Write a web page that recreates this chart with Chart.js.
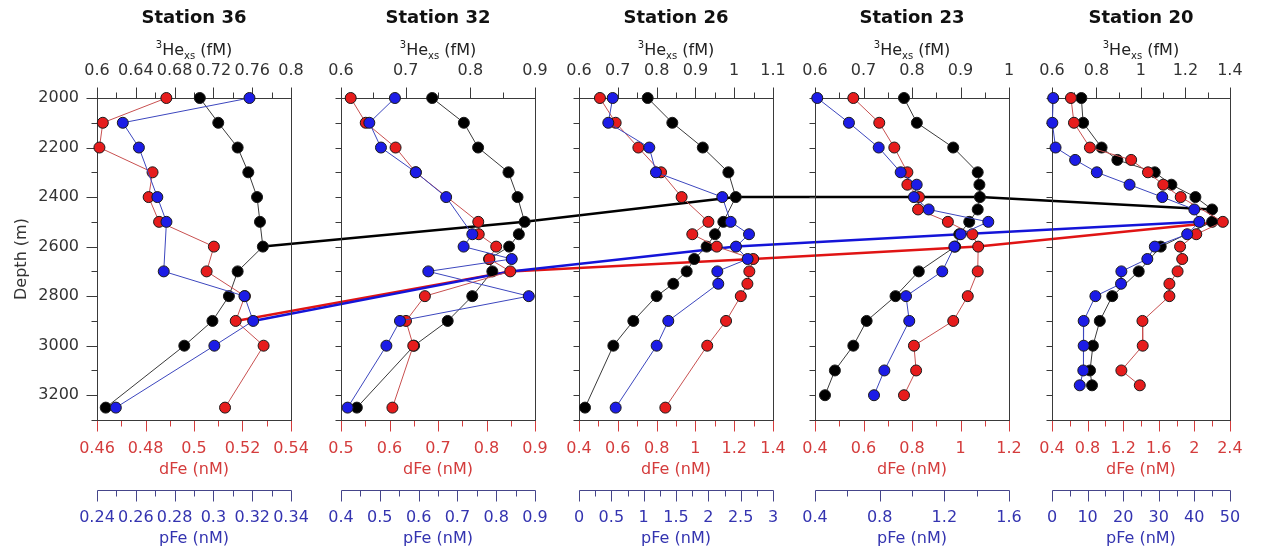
<!DOCTYPE html>
<html>
<head>
<meta charset="utf-8">
<title>3He, dFe and pFe depth profiles</title>
<script src="https://cdn.jsdelivr.net/npm/chart.js@4.4.1/dist/chart.umd.min.js"></script>
<style>
  html, body { margin: 0; padding: 0; background: #fff; }
  #wrap { position: relative; width: 1262px; height: 550px; }
  #wrap canvas { position: absolute; left: 0; top: 0; }
</style>
</head>
<body>
<div id="wrap">
  <canvas id="cores" width="1262" height="550"></canvas>
  <canvas id="p0" width="1262" height="550"></canvas>
  <canvas id="p1" width="1262" height="550"></canvas>
  <canvas id="p2" width="1262" height="550"></canvas>
  <canvas id="p3" width="1262" height="550"></canvas>
  <canvas id="p4" width="1262" height="550"></canvas>
</div>
<script>
// Depth profiles of 3He excess, dissolved Fe and particulate Fe at five stations,
// with the plume core joined from station to station.

Chart.defaults.font.family = '"DejaVu Sans", sans-serif';
Chart.defaults.font.size = 16;
Chart.defaults.color = '#333';

var stations = ['Station 36', 'Station 32', 'Station 26', 'Station 23', 'Station 20'];

// [depth (m), value] pairs
var he36 = [[2000,0.706],[2100,0.725],[2200,0.745],[2300,0.756],[2400,0.765],[2500,0.768],[2600,0.771],[2700,0.745],[2800,0.736],[2900,0.719],[3000,0.690],[3250,0.609]];
var dfe36 = [[2000,0.4886],[2100,0.4624],[2200,0.461],[2300,0.4829],[2400,0.4813],[2500,0.4856],[2600,0.5082],[2700,0.5052],[2800,0.521],[2900,0.5172],[3000,0.5287],[3250,0.5128]];
var pfe36 = [[2000,0.3186],[2100,0.2533],[2200,0.2616],[2400,0.2711],[2500,0.2758],[2700,0.2744],[2800,0.316],[2900,0.3205],[3000,0.3005],[3250,0.2497]];

var he32 = [[2000,0.741],[2100,0.790],[2200,0.812],[2300,0.859],[2400,0.873],[2500,0.884],[2550,0.875],[2600,0.860],[2650,0.829],[2700,0.834],[2800,0.803],[2900,0.765],[3000,0.713],[3250,0.6245]];
var dfe32 = [[2000,0.520],[2100,0.551],[2200,0.6125],[2300,0.654],[2500,0.783],[2550,0.784],[2600,0.820],[2650,0.806],[2700,0.849],[2800,0.673],[2900,0.634],[3000,0.649],[3250,0.606]];
var pfe32 = [[2000,0.539],[2100,0.473],[2200,0.503],[2300,0.593],[2400,0.671],[2550,0.7385],[2600,0.716],[2650,0.840],[2700,0.625],[2800,0.884],[2900,0.552],[3000,0.517],[3250,0.417]];

var he26 = [[2000,0.777],[2100,0.8405],[2200,0.919],[2300,0.985],[2400,1.004],[2500,0.972],[2550,0.9505],[2600,0.929],[2650,0.897],[2700,0.8775],[2750,0.843],[2800,0.800],[2900,0.740],[3000,0.6885],[3250,0.6155]];
var dfe26 = [[2000,0.508],[2100,0.589],[2200,0.706],[2300,0.823],[2400,0.929],[2500,1.067],[2550,0.984],[2600,1.110],[2650,1.298],[2700,1.278],[2750,1.268],[2800,1.234],[2900,1.158],[3000,1.061],[3250,0.845]];
var pfe26 = [[2000,0.521],[2100,0.453],[2200,1.087],[2300,1.19],[2400,2.216],[2500,2.345],[2550,2.629],[2600,2.428],[2650,2.608],[2700,2.139],[2750,2.154],[2900,1.381],[3000,1.201],[3250,0.567]];

var he23 = [[2000,0.7835],[2100,0.810],[2200,0.885],[2300,0.9355],[2350,0.939],[2400,0.940],[2450,0.9355],[2500,0.918],[2550,0.8975],[2600,0.889],[2700,0.814],[2800,0.766],[2900,0.7065],[3000,0.679],[3100,0.641],[3200,0.6206]];
var dfe23 = [[2000,0.558],[2100,0.665],[2200,0.727],[2300,0.781],[2350,0.781],[2400,0.829],[2450,0.825],[2500,0.948],[2550,1.049],[2600,1.073],[2700,1.071],[2800,1.03],[2900,0.970],[3000,0.808],[3100,0.817],[3200,0.767]];
var pfe23 = [[2000,0.414],[2100,0.610],[2200,0.794],[2300,0.930],[2350,1.029],[2400,1.012],[2450,1.103],[2500,1.472],[2550,1.301],[2600,1.262],[2700,1.187],[2800,0.963],[2900,0.983],[3100,0.829],[3200,0.765]];

var he20 = [[2000,0.732],[2100,0.740],[2200,0.823],[2250,0.894],[2300,1.062],[2350,1.137],[2400,1.245],[2450,1.320],[2500,1.320],[2600,1.089],[2700,0.990],[2800,0.871],[2900,0.815],[3000,0.784],[3100,0.771],[3160,0.780]];
var dfe20 = [[2000,0.613],[2100,0.647],[2200,0.826],[2250,1.290],[2300,1.479],[2350,1.651],[2400,1.847],[2500,2.321],[2550,2.022],[2600,1.840],[2650,1.864],[2700,1.812],[2750,1.720],[2800,1.720],[2900,1.417],[3000,1.420],[3100,1.180],[3160,1.387]];
var pfe20 = [[2000,0.34],[2100,0.1],[2200,1.0],[2250,6.5],[2300,12.6],[2350,21.8],[2400,31.0],[2450,40.0],[2500,41.4],[2550,38.0],[2600,28.9],[2650,26.8],[2700,19.5],[2750,19.4],[2800,12.2],[2900,8.9],[3000,8.9],[3100,8.8],[3160,7.8]];

var heSeries = [he36, he32, he26, he23, he20];
var dfeSeries = [dfe36, dfe32, dfe26, dfe23, dfe20];
var pfeSeries = [pfe36, pfe32, pfe26, pfe23, pfe20];

// plume core: [station index, depth, value]
var heCore = [[0,2600,0.771],[1,2500,0.884],[2,2400,1.004],[3,2400,0.940],[4,2450,1.320]];
var dfeCore = [[0,2900,0.5172],[1,2700,0.849],[2,2650,1.298],[3,2600,1.073],[4,2500,2.321]];
var pfeCore = [[0,2900,0.3205],[1,2700,0.837],[2,2600,2.428],[3,2550,1.301],[4,2500,41.4]];

// axis ranges and [minor, labelled] tick steps
var heRange = [[0.6,0.8],[0.6,0.9],[0.6,1.1],[0.6,1.0],[0.6,1.4]];
var heStep = [[0.02,0.04],[0.05,0.1],[0.05,0.1],[0.05,0.1],[0.1,0.2]];
var dfeRange = [[0.46,0.54],[0.5,0.9],[0.4,1.4],[0.4,1.2],[0.4,2.4]];
var dfeStep = [[0.01,0.02],[0.05,0.1],[0.1,0.2],[0.1,0.2],[0.2,0.4]];
var pfeRange = [[0.24,0.34],[0.4,0.9],[0,3],[0.4,1.6],[0,50]];
var pfeStep = [[0.01,0.02],[0.05,0.1],[0.25,0.5],[0.2,0.4],[5,10]];
var depthRange = [2000, 3300];
var depthStep = [100, 200];

// page layout
var plotLeft = [97, 341, 579, 815, 1052];
var plotWidth = 194;
var PLOT_TOP = 98;
var TITLE_H = 30;

var RED = '#d43c3c';
var BLUE = '#3434b0';

function fmt(v) { return String(Number(v.toFixed(4))); }
function isMajor(v, step) { var q = v / step; return Math.abs(q - Math.round(q)) < 1e-6; }

function xAxis(position, range, step, color, pad) {
  return {
    type: 'linear',
    position: position,
    min: range[0],
    max: range[1],
    grid: { display: false, drawTicks: false },
    border: { display: false },
    ticks: {
      stepSize: step[0],
      autoSkip: false,
      maxRotation: 0,
      minRotation: 0,
      padding: pad,
      color: color,
      callback: function (v) { return isMajor(v, step[1]) ? fmt(v) : ''; }
    }
  };
}

// tick marks, frame, pFe axis line and the 3He axis title
function drawTicks(ctx, scale, side, base, color) {
  ctx.strokeStyle = color;
  ctx.lineWidth = 1;
  ctx.beginPath();
  scale.ticks.forEach(function (t) {
    var p = Math.round(scale.getPixelForValue(t.value)) + 0.5;
    var len = t.label ? 11 : 6;
    if (side === 'top') { ctx.moveTo(p, base); ctx.lineTo(p, base - len); }
    else if (side === 'bottom') { ctx.moveTo(p, base); ctx.lineTo(p, base + len); }
    else { ctx.moveTo(base, p); ctx.lineTo(base - len, p); }
  });
  ctx.stroke();
}

function drawHeTitle(ctx, cx, baseline) {
  var parts = [['3', 10, -7], ['He', 16, 0], ['xs', 10, 4], [' (fM)', 16, 0]];
  var total = 0;
  parts.forEach(function (p) {
    ctx.font = p[1] + 'px "DejaVu Sans"';
    p.push(ctx.measureText(p[0]).width);
    total += p[3];
  });
  var x = cx - total / 2;
  ctx.fillStyle = '#222';
  ctx.textAlign = 'left';
  ctx.textBaseline = 'alphabetic';
  parts.forEach(function (p) {
    ctx.font = p[1] + 'px "DejaVu Sans"';
    ctx.fillText(p[0], x, baseline + p[2]);
    x += p[3];
  });
}

var panelFrame = {
  id: 'panelFrame',
  beforeDatasetsDraw: function (chart) {
    var ctx = chart.ctx;
    var a = chart.chartArea;
    var s = chart.scales;
    ctx.save();
    var top = Math.round(a.top) + 0.5, bottom = Math.round(a.bottom) + 0.5;
    var left = Math.round(a.left) + 0.5, right = Math.round(a.right) + 0.5;
    drawTicks(ctx, s.xh, 'top', top, '#3a3a3a');
    drawTicks(ctx, s.xd, 'bottom', bottom, RED);
    drawTicks(ctx, s.y, 'left', left, '#3a3a3a');
    var pTop = Math.round(s.xp.top) + 0.5;
    drawTicks(ctx, s.xp, 'bottom', pTop, '#45458a');
    ctx.strokeStyle = '#45458a';
    ctx.beginPath();
    ctx.moveTo(left, pTop);
    ctx.lineTo(right, pTop);
    ctx.stroke();
    ctx.strokeStyle = '#3a3a3a';
    ctx.strokeRect(left, top, right - left, bottom - top);
    drawHeTitle(ctx, (a.left + a.right) / 2, 55);
    ctx.restore();
  }
};

function series(points, axisId, line, fill) {
  return {
    data: points.map(function (p) { return { x: p[1], y: p[0] }; }),
    xAxisID: axisId,
    yAxisID: 'y',
    showLine: true,
    borderColor: line,
    borderWidth: 1,
    pointRadius: 5.5,
    pointBackgroundColor: fill,
    pointBorderColor: '#1a1a1a',
    pointBorderWidth: 1,
    clip: false
  };
}

var charts = [];

stations.forEach(function (name, i) {
  var xh = xAxis('top', heRange[i], heStep[i], '#333', 17.6);
  xh.afterFit = function (sc) { sc.height = PLOT_TOP - TITLE_H; };

  var xd = xAxis('bottom', dfeRange[i], dfeStep[i], RED, 19.4);
  xd.title = { display: true, text: 'dFe (nM)', color: RED, padding: { top: 0, bottom: 10.4 } };
  xd.afterFit = function (sc) { sc.height = 70; };

  var xp = xAxis('bottom', pfeRange[i], pfeStep[i], BLUE, 18.4);
  xp.title = { display: true, text: 'pFe (nM)', color: BLUE, padding: { top: 0, bottom: 1.4 } };
  xp.afterFit = function (sc) { sc.height = 60; };

  var y = {
    type: 'linear',
    position: 'left',
    reverse: true,
    min: depthRange[0],
    max: depthRange[1],
    grid: { display: false, drawTicks: false },
    border: { display: false },
    ticks: {
      stepSize: depthStep[0],
      autoSkip: false,
      padding: 18,
      color: '#333',
      callback: function (v) { return (i === 0 && isMajor(v, depthStep[1])) ? String(v) : ''; }
    },
    title: { display: i === 0, text: 'Depth (m)', color: '#333', padding: { top: 12.4, bottom: 0 } },
    afterFit: function (sc) { sc.width = plotLeft[i]; }
  };

  charts.push(new Chart(document.getElementById('p' + i), {
    type: 'scatter',
    data: {
      datasets: [
        series(pfeSeries[i], 'xp', '#3c46be', '#1c1ce6'),
        series(dfeSeries[i], 'xd', '#c85050', '#e61c1c'),
        series(heSeries[i], 'xh', '#3a3a3a', '#000000')
      ]
    },
    options: {
      responsive: false,
      animation: false,
      events: [],
      layout: { padding: { left: 0, right: 1262 - plotLeft[i] - plotWidth, top: 0, bottom: 0 } },
      plugins: {
        legend: { display: false },
        tooltip: { enabled: false },
        title: {
          display: true,
          text: name,
          fullSize: false,
          color: '#111',
          font: { size: 18, weight: 'bold' },
          padding: { top: 8, bottom: 0.4 }
        }
      },
      scales: { xh: xh, xd: xd, xp: xp, y: y }
    },
    plugins: [panelFrame]
  }));
});

// plume core traced across the stations, drawn beneath the panels
(function () {
  var ctx = document.getElementById('cores').getContext('2d');
  var cores = [
    { nodes: heCore, axis: 'xh', color: '#000000' },
    { nodes: dfeCore, axis: 'xd', color: '#e01414' },
    { nodes: pfeCore, axis: 'xp', color: '#1414d8' }
  ];
  ctx.lineWidth = 2.5;
  ctx.lineJoin = 'round';
  cores.forEach(function (core) {
    ctx.beginPath();
    core.nodes.forEach(function (n, k) {
      var ch = charts[n[0]];
      var x = ch.scales[core.axis].getPixelForValue(n[2]);
      var yy = ch.scales.y.getPixelForValue(n[1]);
      if (k === 0) ctx.moveTo(x, yy); else ctx.lineTo(x, yy);
    });
    ctx.strokeStyle = core.color;
    ctx.stroke();
  });
}());
</script>
</body>
</html>
